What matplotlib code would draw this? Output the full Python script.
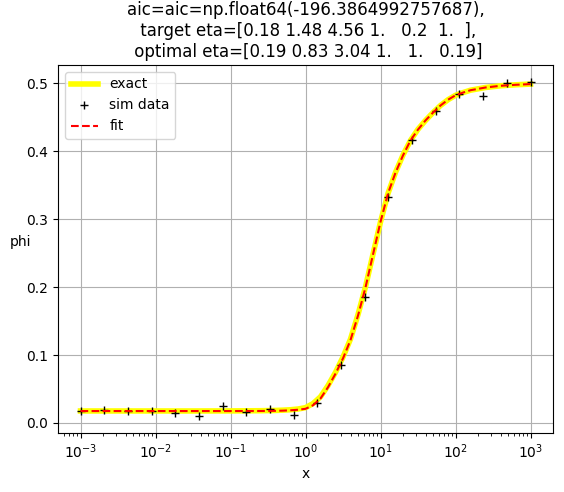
import numpy as np
import matplotlib
matplotlib.use('Agg')
import matplotlib.pyplot as plt

# simulated data, 20 log-spaced points from 1e-3 to 1e3
x_data = np.logspace(-3, 3, 20)
phi_data = [0.0172, 0.0195, 0.0172, 0.0176, 0.0142, 0.0098, 0.0249, 0.0157, 0.0210, 0.0113,
            0.0289, 0.0850, 0.1860, 0.3330, 0.4160, 0.4590, 0.4850, 0.4820, 0.5005, 0.5025]

# curves (log10 of x)
log_x_curve = [-3.0, -2.5, -2.0, -1.5, -1.0, -0.6, -0.4, -0.3, -0.2, -0.1,
               0.0, 0.1, 0.2, 0.3, 0.4, 0.5, 0.6, 0.7, 0.8, 0.9,
               1.0, 1.1, 1.2, 1.3, 1.4, 1.5, 1.6, 1.7, 1.8, 1.9,
               2.0, 2.1, 2.2, 2.4, 2.6, 2.8, 3.0]
phi_exact = [0.0176, 0.0176, 0.0176, 0.0176, 0.0177, 0.0180, 0.0184, 0.0188, 0.0194, 0.0205,
             0.0225, 0.0285, 0.0385, 0.0550, 0.0745, 0.0970, 0.1235, 0.1595, 0.2005, 0.2485,
             0.2960, 0.3380, 0.3690, 0.3945, 0.4160, 0.4325, 0.4455, 0.4570, 0.4675, 0.4760,
             0.4825, 0.4865, 0.4900, 0.4940, 0.4965, 0.4980, 0.4990]
phi_fit = [0.0175, 0.0175, 0.0175, 0.0175, 0.0175, 0.0176, 0.0178, 0.0181, 0.0186, 0.0194,
           0.0208, 0.0260, 0.0360, 0.0525, 0.0725, 0.0950, 0.1220, 0.1580, 0.1995, 0.2480,
           0.2960, 0.3380, 0.3685, 0.3940, 0.4160, 0.4320, 0.4455, 0.4570, 0.4675, 0.4760,
           0.4825, 0.4865, 0.4900, 0.4940, 0.4965, 0.4980, 0.4990]
x_curve = 10 ** np.array(log_x_curve)

aic = -196.3864992757687
target_eta = '[0.18 1.48 4.56 1.   0.2  1.  ]'
optimal_eta = '[0.19 0.83 3.04 1.   1.   0.19]'

fig = plt.figure(figsize=(5.64, 4.92), dpi=100)
ax = fig.add_axes([58 / 564, 1 - 433 / 492, 495 / 564, 368 / 492])

ax.plot(x_curve, phi_exact, color='yellow', lw=4, label='exact')
ax.plot(x_data, phi_data, 'k+', label='sim data')
ax.plot(x_curve, phi_fit, 'r--', label='fit')
ax.set_xscale('log')
ax.grid(True)
ax.legend(loc='upper left')
ax.set_xlabel('x')
ax.set_ylabel('phi', rotation=0)
ax.set_title('aic=aic=np.float64(%r),\n target eta=%s,\n optimal eta=%s'
             % (aic, target_eta, optimal_eta))

fig.savefig('out.png', dpi=100)
